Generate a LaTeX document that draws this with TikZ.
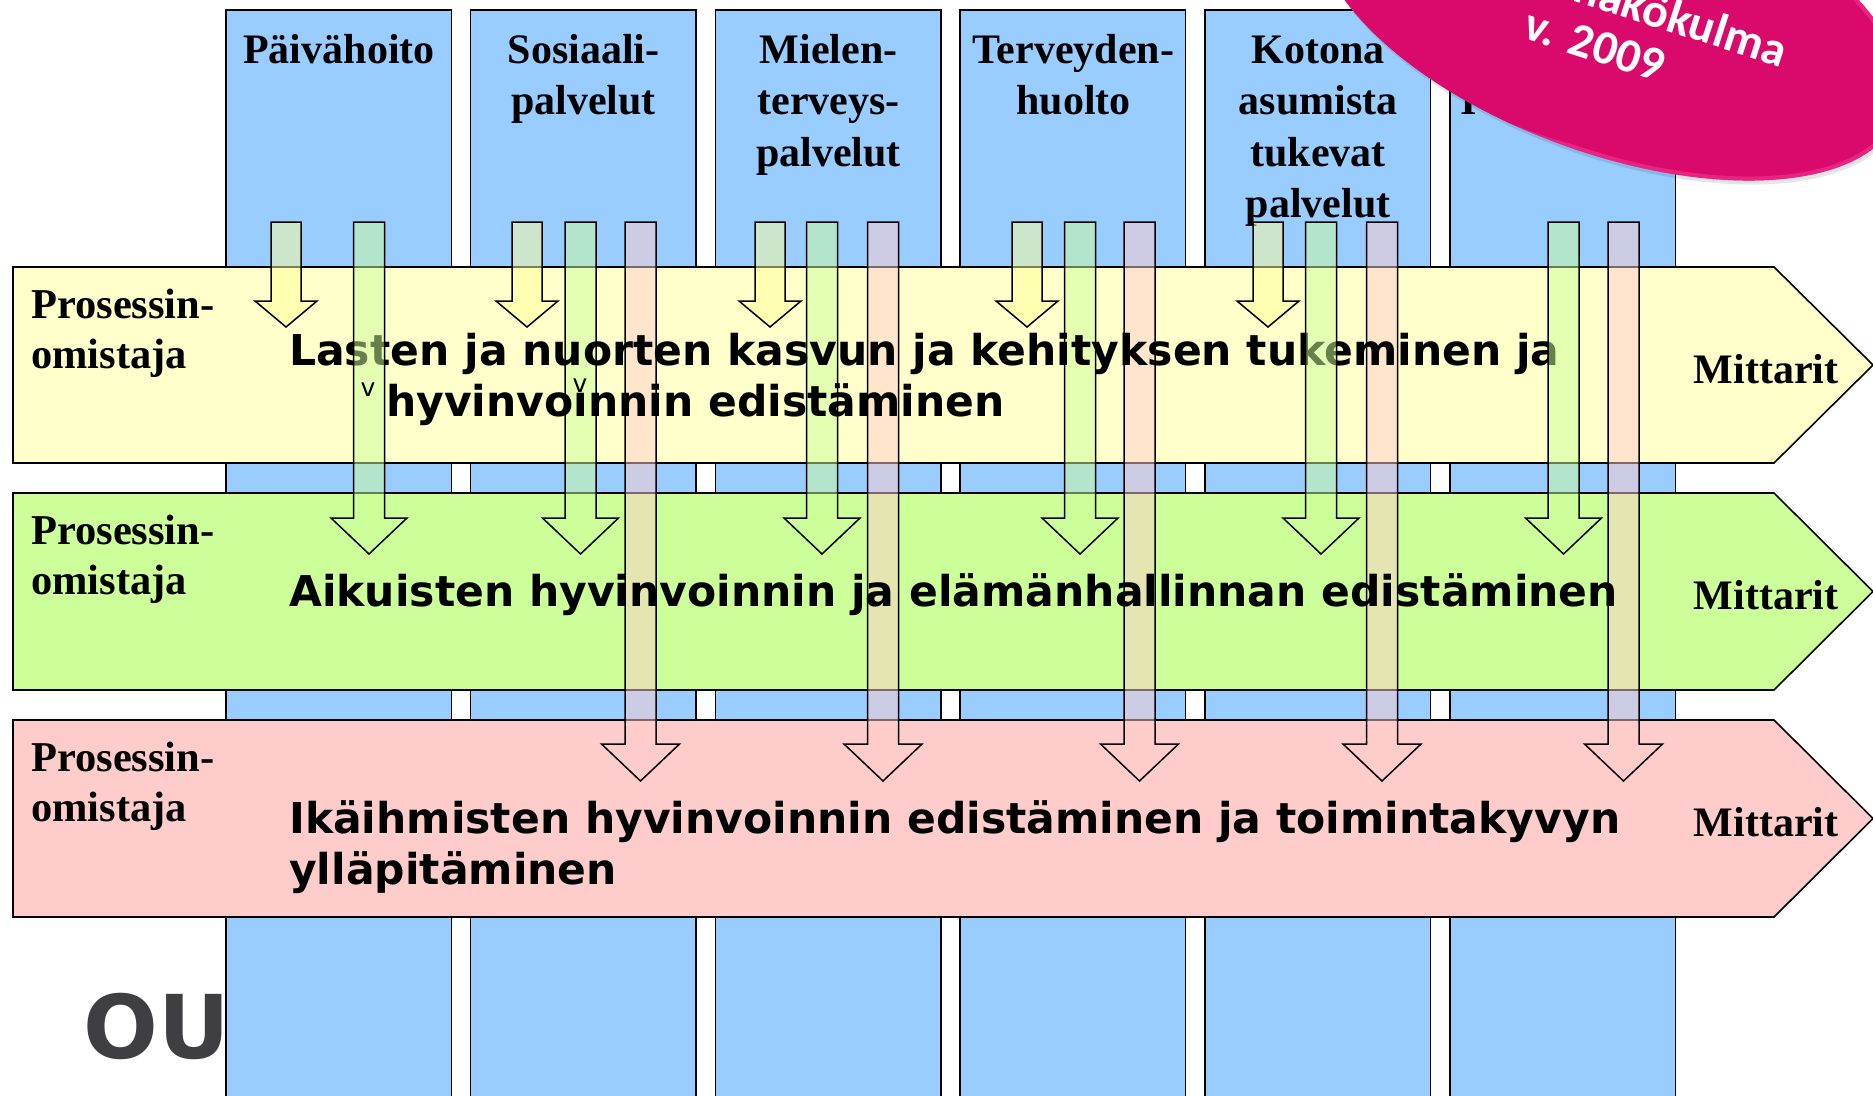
\documentclass[tikz,border=0pt]{standalone}
\usepackage{fontspec}
\setmainfont{Liberation Serif}
\newfontfamily\dvs{DejaVu Sans}
\newfontfamily\carl{Carlito}
\definecolor{colblue}{HTML}{99CCFF}
\definecolor{bandY}{HTML}{FFFFCC}
\definecolor{bandG}{HTML}{CCFF99}
\definecolor{bandP}{HTML}{FFCCCC}
\definecolor{arrYel}{HTML}{FFFF99}
\definecolor{arrGrn}{HTML}{CCFF99}
\definecolor{arrPnk}{HTML}{FFCCCC}
\definecolor{magenta2}{HTML}{D90A6B}
\definecolor{magentaL}{HTML}{F2368F}
\definecolor{ougray}{HTML}{3F3F41}
\tikzset{
  colbox/.style={fill=colblue, draw=black, line width=1.6pt},
  bandbox/.style={draw=black, line width=1.6pt, line join=miter},
  hdr/.style={anchor=base, inner sep=0, font=\fontsize{42}{50}\selectfont\bfseries},
  ptext/.style={anchor=base west, inner sep=0, font=\fontsize{42.5}{50}\selectfont\bfseries},
  mtext/.style={anchor=base, inner sep=0, font=\fontsize{42}{50}\selectfont\bfseries},
  btext/.style={anchor=base west, inner sep=0, font=\dvs\bfseries\fontsize{42.5}{51}\selectfont},
  smallv/.style={anchor=base, inner sep=0, text=black, font=\dvs\fontsize{25}{25}\selectfont},
  arrbase/.style={draw=black, line width=1.5pt, line join=miter, fill opacity=0.5},
  arrA/.style={arrbase, fill=arrYel},
  arrB/.style={arrbase, fill=arrGrn},
  arrC/.style={arrbase, fill=arrPnk},
  etext/.style={inner sep=0, text=white, font=\carl\bfseries\fontsize{48}{56}\selectfont},
}
\newcommand{\blkarrow}[6]{%
  \draw[#1] ({#2-#3},222) -- ({#2+#3},222) -- ({#2+#3},#4) -- ({#2+#5},#4) -- (#2,#6)
     -- ({#2-#5},#4) -- ({#2-#3},#4) -- cycle;}
\begin{document}
\begin{tikzpicture}[x=1pt,y=-1pt]
\useasboundingbox (0,0) rectangle (1873,1095);
\clip (0,0) rectangle (1873,1095);
\fill[white] (0,0) rectangle (1873,1095);

% logo text behind columns
\node[anchor=base west, inner sep=0, text=ougray, font=\dvs\bfseries\fontsize{88}{100}\selectfont] (ou) at (83,1058) {OU};

% columns
\foreach \x in {226,470.5,715.5,960,1205,1450}
  {\draw[colbox] (\x,10) rectangle ++(225.5,1100);}

% column headers
\node[hdr] (h1a) at (339,63) {Päivähoito};
\node[hdr] (h2a) at (583.5,63) {Sosiaali-};
\node[hdr] (h2b) at (583.5,114.5) {palvelut};
\node[hdr] (h3a) at (828.5,63) {Mielen-};
\node[hdr] (h3b) at (828.5,114.5) {terveys-};
\node[hdr] (h3c) at (828.5,166) {palvelut};
\node[hdr] (h4a) at (1073.5,63) {Terveyden-};
\node[hdr] (h4b) at (1073.5,114.5) {huolto};
\node[hdr] (h5a) at (1318,63) {Kotona};
\node[hdr] (h5b) at (1318,114.5) {asumista};
\node[hdr] (h5c) at (1318,166) {tukevat};
\node[hdr] (h5d) at (1318,217.5) {palvelut};
\node[hdr, anchor=base west] (h6b) at (1460,114.5) {I};

% bands
\draw[bandbox, fill=bandY] (13,267) -- (1774,267) -- (1873,365) -- (1774,463) -- (13,463) -- cycle;
\draw[bandbox, fill=bandG] (13,493) -- (1774,493) -- (1873,591.5) -- (1774,690) -- (13,690) -- cycle;
\draw[bandbox, fill=bandP] (13,720) -- (1774,720) -- (1873,818.5) -- (1774,917) -- (13,917) -- cycle;

% arrows lying behind the texts
\foreach \x in {286,527,770,1027,1268}
  {\blkarrow{arrA}{\x}{15}{301}{31}{327}}
\foreach \x in {580.5,822,1080}
  {\blkarrow{arrB}{\x}{15.5}{518}{38}{554}}
\foreach \x in {640.5,883,1139.5,1382,1623.5}
  {\blkarrow{arrC}{\x}{15.5}{744}{39}{781}}

% band texts
\node[ptext] (p1a) at (31,318) {Prosessin-};
\node[ptext] (p1b) at (31,368) {omistaja};
\node[ptext] (p2a) at (31,544) {Prosessin-};
\node[ptext] (p2b) at (31,594) {omistaja};
\node[ptext] (p3a) at (31,771) {Prosessin-};
\node[ptext] (p3b) at (31,821) {omistaja};

\node[mtext] (m1) at (1766,383) {Mittarit};
\node[mtext] (m2) at (1766,609) {Mittarit};
\node[mtext] (m3) at (1766,836) {Mittarit};

\node[btext] (t1a) at (289,365) {Lasten ja nuorten kasvun ja kehityksen tukeminen ja};
\node[btext] (t1b) at (386,416) {hyvinvoınnin edistäminen};
\node[btext] (t2a) at (289,606) {Aikuisten hyvinvoinnin ja elämänhallinnan edistäminen};
\node[btext] (t3a) at (289,833) {Ikäihmisten hyvinvoinnin edistäminen ja toimintakyvyn};
\node[btext] (t3b) at (289,884) {ylläpitäminen};

% arrows lying over the texts
\foreach \x in {369,1321,1563.5}
  {\blkarrow{arrB}{\x}{15.5}{518}{38}{554}}

\node[smallv] (v1) at (368,396) {v};
\node[smallv] (v2) at (580,392) {v};

% badge
\begin{scope}[shift={(1612,14)}, rotate=-20]
  \fill[black, opacity=0.10] (0,0) ellipse [x radius=307pt, y radius=143pt];
\end{scope}
\begin{scope}[shift={(1610,10)}, rotate=-20]
  \fill[magenta2] (0,0) ellipse [x radius=307pt, y radius=143pt];
  \begin{scope}
    \clip (0,0) ellipse [x radius=307pt, y radius=143pt];
    \draw[magentaL, line width=8pt, opacity=0.6] (0,0) ellipse [x radius=307pt, y radius=143pt];
    \fill[magenta2] (-40,0) ellipse [x radius=300pt, y radius=141pt];
  \end{scope}
\end{scope}
\node[etext, anchor=base east, rotate=-18] (e1) at (1781,68) {näkökulma};
\node[etext, anchor=base, rotate=-18] (e2) at (1590,60) {v. 2009};
\end{tikzpicture}
\end{document}
